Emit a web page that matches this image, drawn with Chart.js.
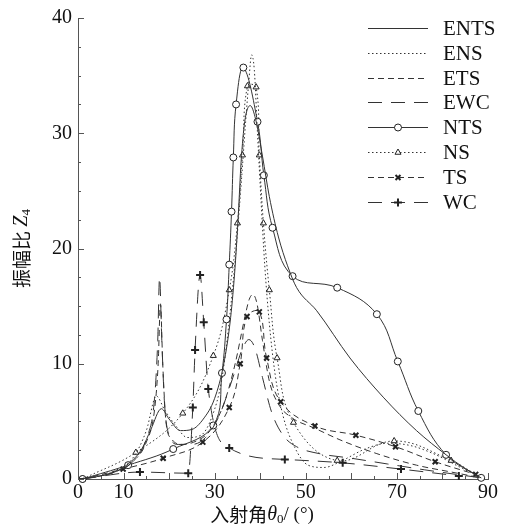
<!DOCTYPE html>
<html>
<head>
<meta charset="utf-8">
<script src="https://cdn.jsdelivr.net/npm/chart.js@4.4.1/dist/chart.umd.min.js"></script>
<style>
  html, body { margin: 0; padding: 0; background: #fff; }
</style>
</head>
<body>
<canvas id="myChart" width="507" height="531"></canvas>
<script>
// tick labels
const xTickLabels = [0, 10, 30, 50, 70, 90];
const yTickLabels = [0, 10, 20, 30, 40];

// exact curves (no markers)
const entsX = [0, 4, 8, 11, 14, 16, 18.3, 20, 22.5, 25, 27.5, 30, 32, 33.5, 34.5, 35.2, 35.8, 36.6, 37.8, 39, 40.5, 42, 44, 46, 48, 52.4, 59.7, 67, 74.3, 80.8, 85, 88.5];
const entsY = [0, 0.2, 0.6, 1.3, 2.6, 4.3, 6.1, 5.2, 4.2, 4.3, 5.2, 7.0, 10, 14, 18.5, 23, 27.5, 31, 32.4, 31.2, 28, 24.5, 21, 18.5, 16.6, 14.6, 10.5, 7.1, 4.2, 2.1, 0.9, 0.1];

const ensX = [0, 4, 8, 12, 15, 17.2, 19, 21.5, 24, 27, 29.5, 31.5, 33, 34.5, 35.8, 36.8, 37.5, 38.1, 38.7, 39.4, 40.2, 41, 42, 43.3, 45, 47.5, 50.5, 54, 58, 63, 68, 73, 78, 83, 88.5];
const ensY = [0, 0.2, 0.7, 1.8, 4.2, 7.2, 6.0, 4.6, 3.6, 3.8, 5.5, 8.5, 13, 19, 25.5, 31, 34.5, 36.8, 35.5, 30, 24, 18.5, 13.5, 9, 5.5, 2.8, 1.2, 1.0, 1.6, 2.6, 3.1, 2.9, 2.2, 1.2, 0.1];

const etsX = [0, 4, 8, 12, 15, 16.8, 17.6, 18.1, 18.6, 19.3, 20.5, 23, 26, 29, 32, 34.5, 36.5, 37.6, 38.4, 39.3, 40.5, 42, 44, 47, 52, 57.5, 65.6, 74.3, 82, 88.5];
const etsY = [0, 0.2, 0.6, 1.5, 3.2, 6, 10, 15.2, 10, 5, 3.5, 3.0, 3.3, 4.2, 6.5, 10, 13.8, 15.6, 16.0, 15.2, 12, 8.5, 6.5, 5.3, 4.4, 3.4, 2.2, 1.2, 0.6, 0.1];

const ewcX = [0, 4, 8, 12, 15, 16.8, 17.5, 17.9, 18.4, 19, 20, 22, 25, 28, 31, 34, 36, 37.5, 38.8, 40.5, 42.5, 45, 48, 53, 60, 68, 76, 83, 88.5];
const ewcY = [0, 0.2, 0.6, 1.5, 3.5, 7, 12, 17.5, 12, 6.5, 3.8, 3.0, 3.0, 3.6, 5.5, 8.8, 11.2, 12.1, 11.4, 8.8, 5.8, 3.8, 2.8, 2.2, 1.8, 1.3, 0.8, 0.4, 0.1];

// approximate curves (with markers)
const ntsX = [1, 11.0, 20.9, 29.7, 31.6, 32.6, 33.2, 33.7, 34.1, 34.7, 36.3, 39.4, 40.8, 42.7, 47.1, 56.9, 65.6, 70.2, 74.7, 80.8, 88.5];
const ntsY = [0, 1.2, 2.6, 4.65, 9.2, 13.85, 18.6, 23.2, 27.9, 32.5, 35.7, 31.0, 26.35, 21.8, 17.6, 16.6, 14.3, 10.2, 5.9, 2.1, 0.1];

const nsX = [1, 12.7, 23.0, 29.7, 33.2, 35.0, 36.1, 37.2, 39.1, 39.8, 40.7, 42.0, 43.7, 47.3, 56.9, 69.4, 81.9, 88.5];
const nsY = [0, 2.3, 5.7, 10.7, 16.4, 22.2, 28.1, 34.1, 34.0, 28.1, 22.2, 16.4, 10.5, 4.9, 1.6, 3.3, 1.6, 0.1];

const tsX = [1, 9.9, 18.7, 27.4, 33.2, 35.6, 37.1, 39.8, 41.4, 44.5, 52.0, 61.0, 69.7, 78.4, 87.3];
const tsY = [0, 0.86, 1.8, 3.2, 6.2, 10.0, 14.1, 14.5, 10.5, 6.7, 4.6, 3.8, 2.8, 1.5, 0.4];

const wcX = [1, 13.6, 24.2, 25.2, 25.7, 26.8, 27.6, 28.6, 33.2, 45.4, 58.1, 70.9, 83.6];
const wcY = [0, 0.6, 0.5, 6.2, 11.2, 17.7, 13.6, 7.8, 2.7, 1.7, 1.4, 0.86, 0.26];

const serif = '"Liberation Serif", "Times New Roman", serif';
const cjk = '"Noto Sans CJK SC", sans-serif';
const ink = '#333';

function makeSet(label, xs, ys, style) {
    return Object.assign({
        label: label,
        data: xs.map((x, i) => ({ x: x, y: ys[i] })),
        borderColor: ink,
        borderWidth: 1,
        fill: false,
        clip: false,
        pointRadius: 0,
        pointHoverRadius: 0,
        pointBackgroundColor: '#fff',
        pointBorderColor: '#222',
        pointBorderWidth: 1,
        cubicInterpolationMode: 'monotone'
    }, style);
}

const datasets = [
    makeSet('ENTS', entsX, entsY, {}),
    makeSet('ENS', ensX, ensY, { borderDash: [1.5, 2.5] }),
    makeSet('ETS', etsX, etsY, { borderDash: [6, 4] }),
    makeSet('EWC', ewcX, ewcY, { borderDash: [14, 9] }),
    makeSet('NTS', ntsX, ntsY, { pointStyle: 'circle', pointRadius: 3.5, cubicInterpolationMode: 'default', tension: 0.4 }),
    makeSet('NS', nsX, nsY, { borderDash: [1.5, 2.5], pointStyle: 'triangle', pointRadius: 3.5, cubicInterpolationMode: 'default', tension: 0.4 }),
    makeSet('TS', tsX, tsY, { borderDash: [6, 4], pointStyle: 'crossRot', pointRadius: 3.5, pointBorderWidth: 2, cubicInterpolationMode: 'default', tension: 0.4 }),
    makeSet('WC', wcX, wcY, { borderDash: [14, 9], pointStyle: 'cross', pointRadius: 4, pointBorderWidth: 2 })
];

// write a row of text pieces centred on x
function drawRuns(ctx, runs, x, y) {
    let total = 0;
    runs.forEach(r => { ctx.font = r.font; r.w = ctx.measureText(r.text).width; total += r.w; });
    let cx = x - total / 2;
    runs.forEach(r => { ctx.font = r.font; ctx.fillText(r.text, cx, y + (r.dy || 0)); cx += r.w; });
}

// ticks pointing into the plot
const innerTicks = {
    id: 'innerTicks',
    afterDraw(chart) {
        const { ctx, chartArea: a, scales: { x, y } } = chart;
        ctx.save();
        ctx.strokeStyle = '#555';
        ctx.lineWidth = 1;
        ctx.beginPath();
        x.ticks.forEach(t => {
            const px = Math.round(x.getPixelForValue(t.value)) + 0.5;
            const len = t.value % 10 === 0 ? 6 : 3;
            ctx.moveTo(px, a.bottom);
            ctx.lineTo(px, a.bottom - len);
        });
        y.ticks.forEach(t => {
            const py = Math.round(y.getPixelForValue(t.value)) + 0.5;
            const len = t.value % 10 === 0 ? 6 : 3;
            ctx.moveTo(a.left, py);
            ctx.lineTo(a.left + len, py);
        });
        ctx.stroke();
        ctx.restore();
    }
};

// axis titles with sub-scripts
const axisTitles = {
    id: 'axisTitles',
    afterDraw(chart) {
        const ctx = chart.ctx;
        const a = chart.chartArea;
        ctx.save();
        ctx.fillStyle = '#111';
        ctx.textBaseline = 'middle';
        ctx.textAlign = 'left';
        drawRuns(ctx, [
            { text: '入射角', font: '19px ' + cjk },
            { text: 'θ', font: 'italic 20px ' + serif },
            { text: '0', font: '13px ' + serif, dy: 5 },
            { text: '/ (°)', font: '19px ' + serif }
        ], 262, 515);
        ctx.translate(22, (a.top + a.bottom) / 2);
        ctx.rotate(-Math.PI / 2);
        drawRuns(ctx, [
            { text: '振幅比 ', font: '19px ' + cjk },
            { text: 'Z', font: 'italic 20px ' + serif },
            { text: '4', font: '13px ' + serif, dy: 5 }
        ], 0, 0);
        ctx.restore();
    }
};

// legend: line sample with marker, name on the right
const lineLegend = {
    id: 'lineLegend',
    afterDraw(chart) {
        const ctx = chart.ctx;
        const x0 = 368, x1 = 428, tx = 443, top = 28, gap = 24.8;
        chart.data.datasets.forEach((ds, i) => {
            const yy = Math.round(top + i * gap) + 0.5;
            ctx.save();
            ctx.strokeStyle = ds.borderColor;
            ctx.lineWidth = ds.borderWidth;
            ctx.setLineDash(ds.borderDash || []);
            ctx.beginPath();
            ctx.moveTo(x0, yy);
            ctx.lineTo(x1, yy);
            ctx.stroke();
            ctx.setLineDash([]);
            if (ds.pointRadius > 0) {
                ctx.fillStyle = ds.pointBackgroundColor;
                ctx.strokeStyle = ds.pointBorderColor;
                ctx.lineWidth = ds.pointBorderWidth;
                Chart.helpers.drawPoint(ctx, {
                    pointStyle: ds.pointStyle,
                    radius: ds.pointRadius,
                    borderWidth: ds.pointBorderWidth,
                    rotation: 0
                }, (x0 + x1) / 2, yy);
            }
            ctx.fillStyle = '#111';
            ctx.font = '21px ' + serif;
            ctx.textBaseline = 'middle';
            ctx.textAlign = 'left';
            ctx.fillText(ds.label, tx, yy + 1);
            ctx.restore();
        });
    }
};

const ctx = document.getElementById('myChart').getContext('2d');
new Chart(ctx, {
    type: 'line',
    data: { datasets: datasets },
    options: {
        responsive: false,
        animation: false,
        events: [],
        layout: { padding: { left: 0, top: 15, right: 19, bottom: 0 } },
        plugins: { legend: { display: false }, tooltip: { enabled: false } },
        scales: {
            x: {
                type: 'linear',
                min: 0,
                max: 90,
                afterFit: s => { s.height = 52; },
                ticks: {
                    stepSize: 5,
                    autoSkip: false,
                    maxRotation: 0,
                    padding: 2,
                    color: '#111',
                    font: { family: serif, size: 20 },
                    callback: v => xTickLabels.includes(v) ? String(v) : ''
                },
                grid: { display: true, drawOnChartArea: false, drawTicks: false },
                border: { display: true, color: '#555', width: 1 }
            },
            y: {
                min: 0,
                max: 40,
                afterFit: s => { s.width = 78; },
                ticks: {
                    stepSize: 2.5,
                    autoSkip: false,
                    padding: 6,
                    color: '#111',
                    font: { family: serif, size: 20 },
                    callback: v => yTickLabels.includes(v) ? String(v) : ''
                },
                grid: { display: true, drawOnChartArea: false, drawTicks: false },
                border: { display: true, color: '#555', width: 1 }
            }
        }
    },
    plugins: [innerTicks, axisTitles, lineLegend]
});
</script>
</body>
</html>
